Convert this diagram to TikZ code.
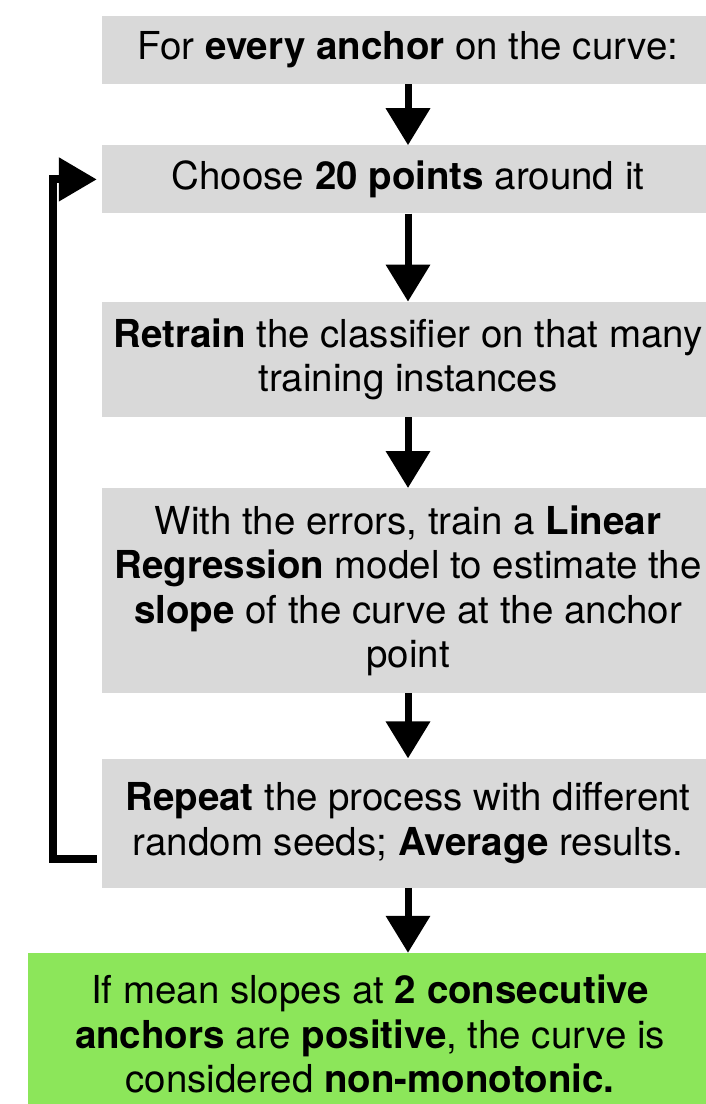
\documentclass[tikz,border=0pt]{standalone}
\usepackage{fontspec}
\setmainfont{TeX Gyre Heros}
\usepackage{xcolor}
\usepackage{tikz}
\usetikzlibrary{arrows.meta,positioning}
\definecolor{stepgrey}{HTML}{D9D9D9}
\definecolor{stepgreen}{HTML}{8CE65A}

\begin{document}
\begin{tikzpicture}[
  x=1pt,y=1pt,
  stepbox/.style={fill=stepgrey,minimum width=612pt,align=center,inner sep=0pt,
    font=\fontsize{38.5}{44.5}\selectfont},
  resultbox/.style={stepbox,fill=stepgreen,minimum width=684pt},
  arr/.style={-{Triangle[length=37pt,width=43pt]},line width=7pt},
  looparr/.style={-{Triangle[length=38pt,width=42pt]},line width=8pt},
  node distance=61pt
]
\clip (0,0) rectangle (706,-1104);
\node[stepbox,minimum height=68pt] (anchor) at (408,-50) {For \textbf{every anchor} on the curve:};
\node[stepbox,minimum height=68pt,below=of anchor] (choose) {Choose \textbf{20 points} around it};
\node[stepbox,minimum height=115pt,below=88pt of choose] (retrain) {\textbf{Retrain} the classifier on that many\\training instances};
\node[stepbox,minimum height=205pt,below=71pt of retrain] (regress) {With the errors, train a \textbf{Linear}\\\textbf{Regression} model to estimate the\\\textbf{slope} of the curve at the anchor\\point};
\node[stepbox,minimum height=129pt,below=65pt of regress] (repeat) {\textbf{Repeat} the process with different\\random seeds; \textbf{Average} results.};
\node[resultbox,minimum height=162pt,below=65pt of repeat.south west,anchor=north west,xshift=-74pt] (result) {If mean slopes at \textbf{2 consecutive}\\\textbf{anchors} are \textbf{positive}, the curve is\\considered \textbf{non-monotonic.}};
\coordinate (loopx) at (53,0);
\coordinate (loopstart) at ([yshift=-36pt]repeat.west);
\draw[arr] (anchor) -- (choose);
\draw[arr] (choose) -- (retrain);
\draw[arr] (retrain) -- (regress);
\draw[arr] (regress) -- (repeat);
\draw[arr] (repeat) -- (repeat |- result.north);
\draw[looparr,shorten >=5pt] ([xshift=-5pt]loopstart) -- (loopstart -| loopx) -- (choose.west -| loopx) -- (choose.west);
\end{tikzpicture}
\end{document}
